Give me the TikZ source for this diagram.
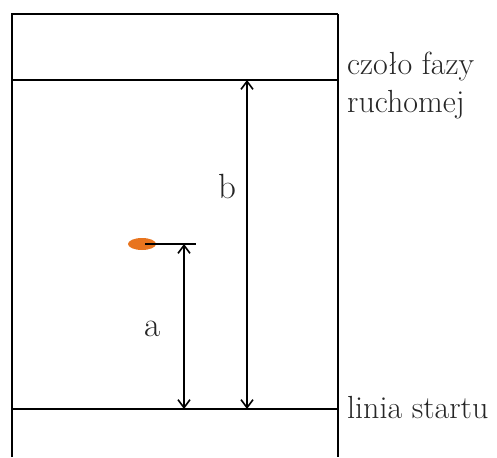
\documentclass[tikz,border=0pt]{standalone}
\usepackage{fontspec}
\usetikzlibrary{arrows.meta}
\definecolor{spotc}{HTML}{E8741E}
\begin{document}
\begin{tikzpicture}[x=1pt,y=-1pt,
  thickedge/.style={line width=2pt},
  edge/.style={line width=1.1pt},
  dim/.style={line width=1.2pt,{Straight Barb[length=8pt,width=12pt,line width=1.6pt]}-{Straight Barb[length=8pt,width=12pt,line width=1.6pt]}},
  lbl/.style={font=\fontsize{32}{38}\selectfont, inner sep=0pt, text=black!85},
  letter/.style={font=\fontsize{35}{40}\selectfont, inner sep=0pt, text=black!85}]
\useasboundingbox (0,0) rectangle (497,457);
% plate
\coordinate (bl) at (12,457);
\coordinate (tl) at (12,14);
\coordinate (tr) at (338,14);
\coordinate (br) at (338,457);
\draw[edge] (tr) -- (br);
\draw[thickedge] (bl) -- (tl) -- (tr);
% front and start lines
\coordinate (fl) at (12,80);
\coordinate (fr) at (338,80);
\coordinate (sl) at (12,409);
\coordinate (sr) at (338,409);
\draw[edge] (fl) -- (fr);
\draw[line width=1.4pt] (sl) -- (sr);
% spot
\fill[spotc] (142,244) ellipse [x radius=14, y radius=6];
\coordinate (spl) at (145,244);
\coordinate (spr) at (196,244);
\draw[line width=1.3pt] (spl) -- (spr);
% dimensions
\coordinate (atop) at (184,244);
\coordinate (abot) at (184,409);
\coordinate (btop) at (247,80);
\coordinate (bbot) at (247,409);
\draw[dim] (atop) -- (abot);
\draw[dim] (btop) -- (bbot);
\node[letter] (la) at (153,329) {a};
\node[letter] (lb) at (227,186) {b};
% labels
\node[lbl, anchor=base west] (czolo) at (347,75) {czoło fazy};
\node[lbl, anchor=base west] (ruch) at (347,113) {ruchomej};
\node[lbl, anchor=base west] (start) at (347,418) {linia startu};
\end{tikzpicture}
\end{document}
